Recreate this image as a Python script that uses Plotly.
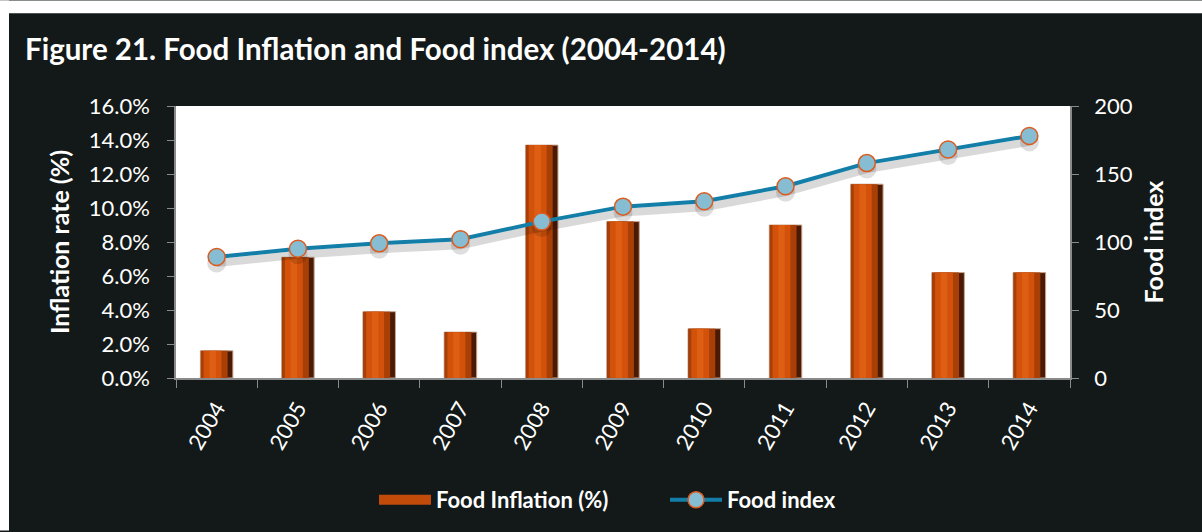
import plotly.graph_objects as go

# Data
years = ["2004", "2005", "2006", "2007", "2008", "2009",
         "2010", "2011", "2012", "2013", "2014"]
food_inflation = [1.6, 7.1, 3.9, 2.7, 13.7, 9.2, 2.9, 9.0, 11.4, 6.2, 6.2]
food_index = [89, 95, 99, 102, 115, 126, 130, 141, 158, 168, 178]

BG = "#131918"
FONT = "Lato, 'Open Sans', sans-serif"
W, H = 1202, 532
L, R, T, B = 176, 132, 106, 153
PW, PH = W - L - R, H - T - B

fig = go.Figure()

# Bars: layered overlays give a bevelled look (dark right edge, bright centre)
fig.add_trace(go.Bar(
    x=years, y=food_inflation, name="Food Inflation (%)", legendgroup="infl",
    showlegend=False,
    width=0.4, marker=dict(color="#4a1a04", line=dict(color="#c9a58f", width=1)),
    hoverinfo="y"))
fig.add_trace(go.Bar(
    x=years, y=food_inflation, showlegend=False, hoverinfo="skip", legendgroup="infl",
    width=0.33, offset=-0.195, marker=dict(color="#a83f06", line=dict(width=0))))
fig.add_trace(go.Bar(
    x=years, y=food_inflation, showlegend=False, hoverinfo="skip", legendgroup="infl",
    width=0.22, offset=-0.16, marker=dict(color="#d3520b", line=dict(width=0))))
fig.add_trace(go.Bar(
    x=years, y=food_inflation, showlegend=False, hoverinfo="skip", legendgroup="infl",
    width=0.08, offset=-0.09, marker=dict(color="#de5e14", line=dict(width=0))))

# Wide swatch for the bar series in the legend
fig.add_trace(go.Scatter(
    x=[None], y=[None], mode="lines", name="Food Inflation (%)",
    legendgroup="infl", line=dict(color="#c24b0a", width=15)))

# Soft shadow under the index line (drawn on a slightly shifted hidden axis)
fig.add_trace(go.Scatter(
    x=years, y=food_index, yaxis="y2", mode="lines+markers",
    showlegend=False, hoverinfo="skip",
    line=dict(color="rgba(0,0,0,0.15)", width=8),
    marker=dict(size=19, color="rgba(0,0,0,0.13)", line=dict(width=0))))

# Food index line
fig.add_trace(go.Scatter(
    x=years, y=food_index, yaxis="y3", name="Food index",
    mode="lines+markers",
    line=dict(color="#137ea8", width=4),
    marker=dict(symbol="circle", size=17, color="#86bdd3",
                line=dict(color="#dc5b1e", width=1.5))))

shift = 6 * 200 / PH

axis_font = dict(family=FONT, size=22, color="white")
title_font = dict(family=FONT, size=25, color="white", weight="bold")

fig.update_layout(
    width=W, height=H,
    margin=dict(l=L, r=R, t=T, b=B),
    paper_bgcolor=BG, plot_bgcolor="white",
    barmode="overlay",
    title=dict(text="<b>Figure 21. Food Inflation and Food index (2004-2014)</b>",
               font=dict(family=FONT, size=29.5, color="white"),
               xref="container", yref="container",
               x=25 / W, xanchor="left", y=1 - 50 / H, yanchor="middle"),
    xaxis=dict(
        type="category", range=[-0.5, 10.5],
        showline=True, linecolor="#8a8a8a", linewidth=1.5,
        ticks="outside", tickson="boundaries", ticklen=8, tickcolor="#8a8a8a",
        tickangle=-60, tickfont=axis_font, showgrid=False, ticklabelstandoff=7),
    yaxis=dict(
        range=[0, 16], dtick=2, tickformat=".1f", ticksuffix="%",
        showline=True, linecolor="#8a8a8a", linewidth=1.5,
        ticks="outside", ticklen=7, tickcolor="#8a8a8a", ticklabelstandoff=13,
        tickfont=axis_font, showgrid=False, zeroline=False,
        title=dict(text="Inflation rate (%)", font=title_font, standoff=12)),
    yaxis2=dict(
        overlaying="y", range=[shift, 200 + shift], visible=False),
    yaxis3=dict(
        overlaying="y", side="right", range=[0, 200], dtick=50,
        showline=True, linecolor="#8a8a8a", linewidth=1.5,
        ticks="outside", ticklen=7, tickcolor="#8a8a8a", ticklabelstandoff=11,
        tickfont=axis_font, showgrid=False, zeroline=False,
        title=dict(text="Food index", font=title_font, standoff=14)),
    legend=dict(
        orientation="h", x=(665 - L) / PW, xanchor="center",
        y=(T + PH - 500) / PH, yanchor="middle",
        font=dict(family=FONT, size=22, color="white", weight="bold"),
        itemwidth=52, entrywidth=224, entrywidthmode="pixels",
        bgcolor="rgba(0,0,0,0)", traceorder="normal"),
    shapes=[
        # white page edge above and to the left of the dark panel
        dict(type="rect", xref="paper", yref="paper", layer="above",
             x0=-L / PW, x1=(W - L) / PW, y0=(PH + T - 13) / PH, y1=(PH + T) / PH,
             fillcolor="white", line=dict(width=0)),
        dict(type="rect", xref="paper", yref="paper", layer="above",
             x0=-L / PW, x1=(9 - L) / PW, y0=-B / PH, y1=(PH + T) / PH,
             fillcolor="white", line=dict(width=0)),
    ],
)

fig.write_html("out.html")
